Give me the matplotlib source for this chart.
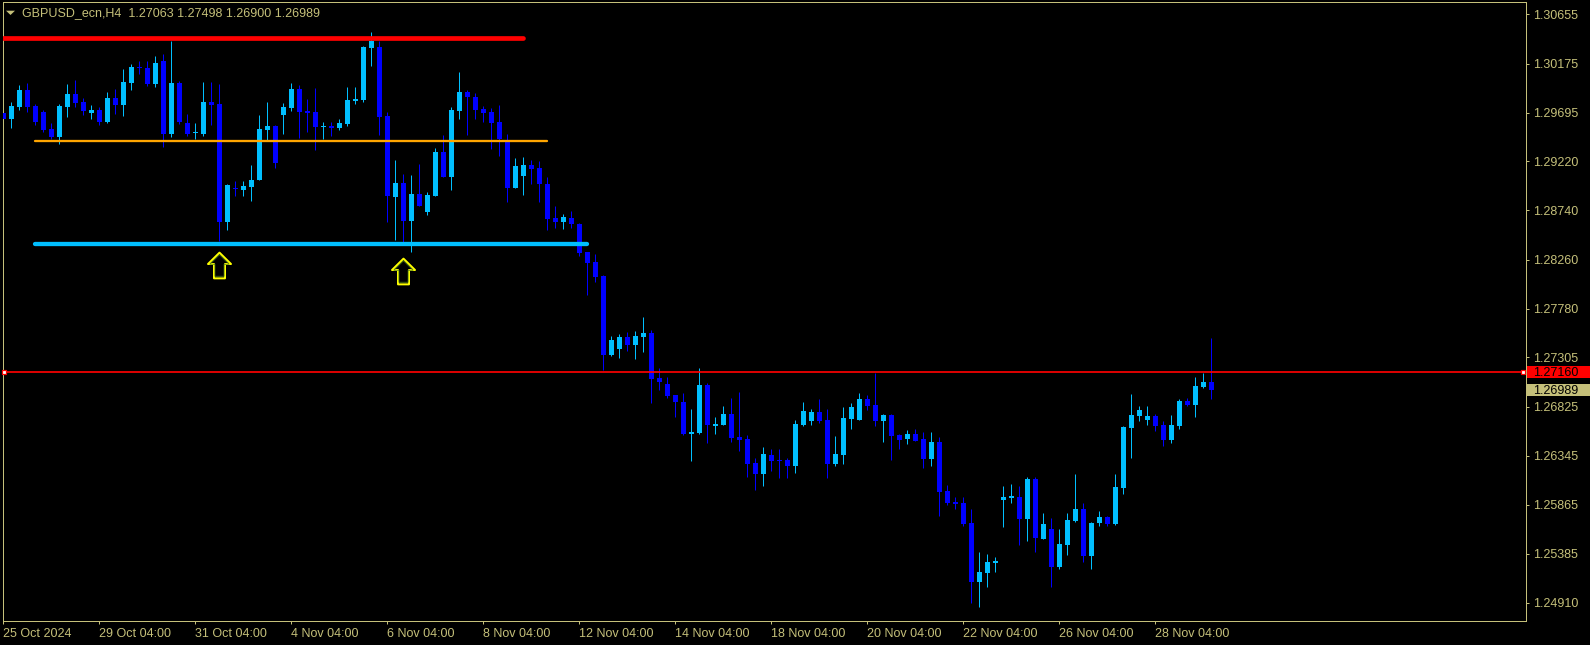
import matplotlib
matplotlib.use("Agg")
import matplotlib.pyplot as plt
import numpy as np
from matplotlib.path import Path
from matplotlib.patches import Polygon, Rectangle
from matplotlib.transforms import blended_transform_factory

plt.rcParams["font.family"] = ["Liberation Sans", "DejaVu Sans"]

# --- данные (H4, GBPUSD) ---
symbol = "GBPUSD_ecn,H4"

opens = [
    1.29689, 1.29636, 1.29748, 1.29917, 1.29760, 1.29701, 1.29536, 1.29458, 1.29750, 1.29878,
    1.29799, 1.29692, 1.29721, 1.29604, 1.29838, 1.29770, 1.29985, 1.30132, 1.30132, 1.29978,
    1.30200, 1.29487, 1.29985, 1.29594, 1.29492, 1.29487, 1.29799, 1.29780, 1.28630, 1.28954,
    1.28940, 1.28969, 1.29037, 1.29526, 1.29565, 1.29672, 1.29741, 1.29927, 1.29711, 1.29701,
    1.29560, 1.29565, 1.29545, 1.29585, 1.29809, 1.29819, 1.30327, 1.30337, 1.29662, 1.28874,
    1.29008, 1.28640, 1.28901, 1.28728, 1.28884, 1.29311, 1.29067, 1.29711, 1.29897, 1.29848,
    1.29731, 1.29701, 1.29604, 1.29409, 1.28962, 1.29076, 1.29184, 1.29155, 1.28998, 1.28666,
    1.28627, 1.28666, 1.28608, 1.28334, 1.28236, 1.28099, 1.27328, 1.27386, 1.27503, 1.27425,
    1.27503, 1.27543, 1.27103, 1.27044, 1.26937, 1.26869, 1.26556, 1.26565, 1.27034, 1.26634,
    1.26644, 1.26751, 1.26527, 1.26507, 1.26273, 1.26165, 1.26351, 1.26302, 1.26302, 1.26243,
    1.26644, 1.26683, 1.26771, 1.26693, 1.26263, 1.26351, 1.26702, 1.26693, 1.26898, 1.26839,
    1.26683, 1.26741, 1.26546, 1.26507, 1.26556, 1.26507, 1.26312, 1.26478, 1.25999, 1.25891,
    1.25882, 1.25686, 1.25110, 1.25198, 1.25296, 1.25911, 1.25931, 1.25940, 1.25725, 1.26116,
    1.25530, 1.25628, 1.25257, 1.25471, 1.25706, 1.25823, 1.25364, 1.25686, 1.25745, 1.25676,
    1.26028, 1.26614, 1.26732, 1.26693, 1.26732, 1.26644, 1.26497, 1.26634, 1.26878, 1.26839,
    1.27015, 1.27063,
]
highs = [
    1.29738, 1.29799, 1.29965, 1.29982, 1.29780, 1.29721, 1.29594, 1.29777, 1.29975, 1.30014,
    1.29838, 1.29770, 1.29748, 1.29897, 1.29927, 1.30122, 1.30171, 1.30200, 1.30200, 1.30249,
    1.30268, 1.30395, 1.30005, 1.29682, 1.29594, 1.29995, 1.29995, 1.29975, 1.28998, 1.29028,
    1.29028, 1.29184, 1.29672, 1.29799, 1.29575, 1.29790, 1.29985, 1.29965, 1.29829, 1.29936,
    1.29604, 1.29604, 1.29633, 1.29946, 1.29946, 1.30347, 1.30483, 1.30395, 1.29701, 1.29233,
    1.29096, 1.29086, 1.29197, 1.28920, 1.29350, 1.29477, 1.29751, 1.30093, 1.29917, 1.29887,
    1.29760, 1.29741, 1.29770, 1.29487, 1.29252, 1.29262, 1.29233, 1.29223, 1.29067, 1.28783,
    1.28705, 1.28735, 1.28617, 1.28334, 1.28314, 1.28109, 1.27513, 1.27533, 1.27552, 1.27562,
    1.27699, 1.27572, 1.27201, 1.27113, 1.26937, 1.26956, 1.26800, 1.27201, 1.27054, 1.26722,
    1.26829, 1.26908, 1.26966, 1.26546, 1.26322, 1.26429, 1.26409, 1.26409, 1.26322, 1.26693,
    1.26869, 1.26800, 1.26898, 1.26800, 1.26536, 1.26820, 1.26859, 1.26956, 1.26937, 1.27152,
    1.26751, 1.26751, 1.26556, 1.26595, 1.26605, 1.26575, 1.26575, 1.26527, 1.26058, 1.25940,
    1.25940, 1.25823, 1.25403, 1.25384, 1.25354, 1.26048, 1.26067, 1.26048, 1.26136, 1.26136,
    1.25784, 1.25735, 1.25628, 1.25784, 1.26165, 1.25882, 1.25696, 1.25804, 1.25755, 1.26165,
    1.26634, 1.26947, 1.26829, 1.26829, 1.26751, 1.26683, 1.26741, 1.26898, 1.26908, 1.27113,
    1.27152, 1.27498,
]
lows = [
    1.29592, 1.29549, 1.29721, 1.29704, 1.29575, 1.29506, 1.29438, 1.29389, 1.29656, 1.29748,
    1.29672, 1.29630, 1.29575, 1.29597, 1.29682, 1.29662, 1.29917, 1.30073, 1.29956, 1.29943,
    1.29360, 1.29458, 1.29585, 1.29467, 1.29438, 1.29467, 1.29575, 1.28441, 1.28549, 1.28884,
    1.28881, 1.28832, 1.29037, 1.29428, 1.29158, 1.29487, 1.29711, 1.29448, 1.29506, 1.29331,
    1.29438, 1.29467, 1.29526, 1.29565, 1.29780, 1.29799, 1.30151, 1.29477, 1.28630, 1.28451,
    1.28435, 1.28337, 1.28786, 1.28698, 1.28881, 1.29067, 1.28940, 1.29633, 1.29477, 1.29633,
    1.29604, 1.29340, 1.29272, 1.28825, 1.28959, 1.28891, 1.29000, 1.28822, 1.28549, 1.28568,
    1.28559, 1.28568, 1.28295, 1.27914, 1.28041, 1.27181, 1.27318, 1.27298, 1.27367, 1.27289,
    1.27357, 1.26859, 1.26986, 1.26908, 1.26722, 1.26546, 1.26292, 1.26556, 1.26468, 1.26556,
    1.26644, 1.26478, 1.26390, 1.26136, 1.26009, 1.26048, 1.26194, 1.26126, 1.26126, 1.26175,
    1.26634, 1.26644, 1.26663, 1.26126, 1.26243, 1.26263, 1.26605, 1.26693, 1.26790, 1.26634,
    1.26478, 1.26302, 1.26409, 1.26458, 1.26487, 1.26224, 1.26243, 1.25755, 1.25862, 1.25823,
    1.25657, 1.24905, 1.24866, 1.25061, 1.25208, 1.25647, 1.25882, 1.25471, 1.25510, 1.25403,
    1.25530, 1.25061, 1.25237, 1.25374, 1.25696, 1.25306, 1.25237, 1.25657, 1.25657, 1.25667,
    1.25970, 1.26321, 1.26683, 1.26644, 1.26585, 1.26439, 1.26468, 1.26605, 1.26829, 1.26722,
    1.27005, 1.26900,
]
closes = [
    1.29636, 1.29760, 1.29917, 1.29754, 1.29607, 1.29526, 1.29458, 1.29760, 1.29878, 1.29790,
    1.29711, 1.29721, 1.29607, 1.29838, 1.29770, 1.29995, 1.30141, 1.30127, 1.29978, 1.30181,
    1.29487, 1.29985, 1.29604, 1.29487, 1.29497, 1.29799, 1.29770, 1.28630, 1.28989, 1.28949,
    1.28979, 1.29037, 1.29536, 1.29565, 1.29204, 1.29750, 1.29927, 1.29701, 1.29692, 1.29555,
    1.29565, 1.29545, 1.29594, 1.29819, 1.29829, 1.30337, 1.30395, 1.29653, 1.28884, 1.29008,
    1.28640, 1.28901, 1.28786, 1.28891, 1.29311, 1.29067, 1.29721, 1.29897, 1.29848, 1.29721,
    1.29692, 1.29594, 1.29438, 1.28962, 1.29174, 1.29184, 1.29145, 1.28998, 1.28656, 1.28627,
    1.28676, 1.28608, 1.28324, 1.28227, 1.28090, 1.27328, 1.27474, 1.27503, 1.27425, 1.27513,
    1.27543, 1.27093, 1.27064, 1.26927, 1.26869, 1.26556, 1.26575, 1.27034, 1.26644, 1.26653,
    1.26751, 1.26517, 1.26497, 1.26263, 1.26165, 1.26360, 1.26292, 1.26297, 1.26243, 1.26653,
    1.26780, 1.26771, 1.26683, 1.26263, 1.26360, 1.26712, 1.26820, 1.26898, 1.26829, 1.26683,
    1.26741, 1.26536, 1.26497, 1.26556, 1.26487, 1.26312, 1.26478, 1.25989, 1.25882, 1.25872,
    1.25676, 1.25110, 1.25208, 1.25306, 1.25315, 1.25940, 1.25950, 1.25725, 1.26116, 1.25540,
    1.25676, 1.25257, 1.25481, 1.25716, 1.25823, 1.25364, 1.25686, 1.25745, 1.25676, 1.26038,
    1.26624, 1.26741, 1.26790, 1.26732, 1.26634, 1.26497, 1.26644, 1.26878, 1.26839, 1.27025,
    1.27064, 1.26989,
]

date_labels = [
    "25 Oct 2024", "29 Oct 04:00", "31 Oct 04:00", "4 Nov 04:00", "6 Nov 04:00",
    "8 Nov 04:00", "12 Nov 04:00", "14 Nov 04:00", "18 Nov 04:00", "20 Nov 04:00",
    "22 Nov 04:00", "26 Nov 04:00", "28 Nov 04:00",
]
bars_per_label = 12
price_ticks = [1.30655, 1.30175, 1.29695, 1.29220, 1.28740, 1.28260, 1.27780,
               1.27305, 1.26825, 1.26345, 1.25865, 1.25385, 1.24910]

# уровни: цена, первый бар, последний бар
resistance = (1.30422, -5, 65)
middle_level = (1.29423, 4, 68)
support = (1.28417, 4, 73)
hline_price = 1.27160
arrow_bars = [27, 50]
arrow_prices = [1.28212, 1.28144]

# --- оформление ---
W, H = 1590, 645
PX = 0.72  # 1 px в пунктах при dpi=100
FG = "#c5c07a"
BULL = "#00bfff"
BEAR = "#0000ff"
PX_PER_PRICE = 10238.0

fig = plt.figure(figsize=(W / 100, H / 100), dpi=100, facecolor="black")
left, right, top, bottom = 2.7, 1526.0, 2.0, 621.0
ax = fig.add_axes([left / W, 1 - bottom / H, (right - left) / W, (bottom - top) / H])
ax.set_facecolor("black")

o = np.array(opens)
h = np.array(highs)
l = np.array(lows)
c = np.array(closes)
x = np.arange(len(o))
colors = np.where(c > o, BULL, BEAR)

ax.vlines(x, l, h, colors=colors, linewidth=1.0 * PX, zorder=2)
body_lo = np.minimum(o, c)
body_h = np.maximum(np.abs(c - o), 1.0 / PX_PER_PRICE)
ax.bar(x, body_h, bottom=body_lo, width=5 / 8, color=colors, linewidth=0, zorder=3)

# линии уровней
for (price, b0, b1), col, lw in [
    (resistance, "#ff0000", 4.7),
    (middle_level, "#ffa500", 2.3),
    (support, BULL, 4.3),
]:
    ax.plot([b0, b1], [price, price], color=col, linewidth=lw * PX,
            solid_capstyle="round", zorder=4)

ax.axhline(hline_price, color="#ff0000", linewidth=1.7 * PX, zorder=4)
ax.plot([0.0009, 0.998], [hline_price, hline_price], linestyle="none", marker="s",
        markersize=5 * PX, markerfacecolor="white", markeredgecolor="#ff0000",
        markeredgewidth=1.2 * PX, transform=blended_transform_factory(ax.transAxes, ax.transData),
        clip_on=False, zorder=6)

# стрелки вверх
arrow_verts = [(0, 12.85), (11.5, 1.5), (5.5, 1.5), (5.5, -12.85), (-5.5, -12.85),
               (-5.5, 1.5), (-11.5, 1.5), (0, 12.85)]
arrow_path = Path(arrow_verts, closed=True)
ax.plot(arrow_bars, arrow_prices, linestyle="none", marker=arrow_path,
        markersize=25.7 * PX, markerfacecolor="none", markeredgecolor="#ffff00",
        markeredgewidth=2.0 * PX, zorder=5)
ax.plot(arrow_bars, arrow_prices, linestyle="none", marker=arrow_path,
        markersize=21.5 * PX, markerfacecolor="none", markeredgecolor="#4d7a1a",
        markeredgewidth=0.8 * PX, zorder=5)

ax.set_xlim(-(3.3 - left) / 8, (right - 3.3) / 8)
ax.set_ylim(1.30655 - (bottom - 14.4) / PX_PER_PRICE, 1.30655 + (14.4 - top) / PX_PER_PRICE)

ax.set_xticks(np.arange(len(date_labels)) * bars_per_label)
ax.set_xticklabels(date_labels, ha="left")
ax.yaxis.tick_right()
ax.set_yticks(price_ticks)
ax.set_yticklabels([f"{p:.5f}" for p in price_ticks])
ax.tick_params(axis="x", colors=FG, labelcolor=FG, length=3 * PX, width=PX,
               pad=4 * PX, labelsize=9)
ax.tick_params(axis="y", colors=FG, labelcolor=FG, length=3 * PX, width=PX,
               pad=4.5 * PX, labelsize=9)
for s in ax.spines.values():
    s.set_color(FG)
    s.set_linewidth(PX)

# метки цен справа
blend = blended_transform_factory(fig.transFigure, ax.transData)
box_h = 12 / PX_PER_PRICE
for price, face in [(hline_price, "#ff0000"), (closes[-1], FG)]:
    fig.patches.append(Rectangle((1527 / W, price - box_h / 2), (1590 - 1527) / W, box_h,
                                 transform=blend, facecolor=face, edgecolor="none",
                                 clip_on=False, zorder=7))
    fig.text(1533 / W, price - 1 / PX_PER_PRICE, f"{price:.5f}", transform=blend,
             color="black", fontsize=9, va="center", ha="left", zorder=8)

# заголовок
fig.patches.append(Polygon([(6 / W, 1 - 10.7 / H), (15 / W, 1 - 10.7 / H), (10.5 / W, 1 - 15 / H)],
                           closed=True, transform=fig.transFigure, facecolor=FG, edgecolor="none"))
fig.text(22 / W, 1 - 12.7 / H,
         f"{symbol}  {opens[-1]:.5f} {highs[-1]:.5f} {lows[-1]:.5f} {closes[-1]:.5f}",
         color=FG, fontsize=9, va="center", ha="left")

fig.savefig("out.png", dpi=100, facecolor="black")
plt.close(fig)
